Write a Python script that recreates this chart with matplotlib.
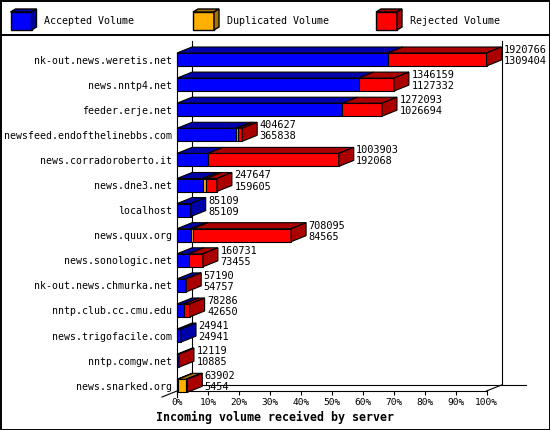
import numpy as np
import matplotlib.pyplot as plt
from matplotlib.patches import Polygon, Rectangle

plt.rcParams['font.family'] = ['DejaVu Sans Mono']

servers = ['nk-out.news.weretis.net', 'news.nntp4.net', 'feeder.erje.net',
           'newsfeed.endofthelinebbs.com', 'news.corradoroberto.it', 'news.dne3.net',
           'localhost', 'news.quux.org', 'news.sonologic.net', 'nk-out.news.chmurka.net',
           'nntp.club.cc.cmu.edu', 'news.trigofacile.com', 'nntp.comgw.net', 'news.snarked.org']
total = [1920766, 1346159, 1272093, 404627, 1003903, 247647, 85109,
         708095, 160731, 57190, 78286, 24941, 12119, 63902]
accepted = [1309404, 1127332, 1026694, 365838, 192068, 159605, 85109,
            84565, 73455, 54757, 42650, 24941, 10885, 5454]
# duplicated volume (orange slivers)
duplicated = [0, 0, 0, 11000, 0, 22000, 0, 14000, 0, 0, 0, 0, 0, 50000]
rejected = [t - a - d for t, a, d in zip(total, accepted, duplicated)]

ticks = list(range(0, 101, 10))
series = ['Accepted Volume', 'Duplicated Volume', 'Rejected Volume']
front_col = ['#0000ff', '#ffb000', '#ff0000']
dark_col = ['#0000aa', '#aa7400', '#aa0000']

W, H = 550, 430
fig = plt.figure(figsize=(W / 100, H / 100), dpi=100)
fig.patch.set_facecolor('white')

# background axes in pixel units for frame and legend
bg = fig.add_axes([0, 0, 1, 1])
bg.set_xlim(0, W)
bg.set_ylim(H, 0)
bg.axis('off')
bg.add_patch(Rectangle((0.5, 0.5), W - 1, H - 1, fill=False, ec='black', lw=1.4))
bg.plot([0, W], [35, 35], color='black', lw=1.4)

leg_x = [10.5, 193, 376]
for k in range(3):
    x0 = leg_x[k]
    fx = [x0, x0 + 21, x0 + 21, x0]
    fy = [12, 12, 30, 30]
    bg.add_patch(Polygon(list(zip(fx, fy)), fc=front_col[k], ec='black', lw=1.0))
    bg.add_patch(Polygon([(x0, 12), (x0 + 21, 12), (x0 + 26, 9), (x0 + 5, 9)],
                         fc=dark_col[k], ec='black', lw=1.0))
    bg.add_patch(Polygon([(x0 + 21, 12), (x0 + 21, 30), (x0 + 26, 27), (x0 + 26, 9)],
                         fc=dark_col[k], ec='black', lw=1.0))
    bg.text(x0 + 34, 21, series[k], fontsize=7.2, va='center', ha='left')

# main chart axes: x in percent of largest total, y = server index
PX = 3.095          # pixels per percent
Y0, SP = 59.5, 25.1  # first bar centre / spacing in pixels
y_top_px, y_bot_px = 41, 391
ax = fig.add_axes([177 / W, 1 - y_bot_px / H, 100 * PX / W, (y_bot_px - y_top_px) / H])
i_top = (y_top_px - Y0) / SP
i_bot = (y_bot_px - Y0) / SP
ax.set_xlim(0, 100)
ax.set_ylim(i_bot, i_top)
ax.patch.set_visible(False)

DX = 15 / PX
DY = 6 / SP
HH = 6.5 / SP
lw = 0.8

# back wall and floor outline
ax.plot([DX, DX], [i_top, i_bot - DY], color='black', lw=lw, clip_on=False, zorder=1)
ax.plot([100 + DX, 100 + DX], [i_top, i_bot - DY], color='black', lw=lw, clip_on=False, zorder=1)
ax.plot([DX, 100 + DX + 7.9], [i_bot - DY, i_bot - DY], color='black', lw=lw, clip_on=False, zorder=1)
ax.plot([100, 100 + DX], [i_bot, i_bot - DY], color='black', lw=lw, clip_on=False, zorder=1)
ax.plot([-DX, DX], [i_bot + DY, i_bot - DY], color='black', lw=lw, clip_on=False, zorder=1)
ax.plot([0, 0], [-HH, i_bot + DY], color='black', lw=lw, clip_on=False, zorder=2)

scale = 100.0 / max(total)
for i in range(len(servers)):
    vals = [accepted[i], duplicated[i], rejected[i]]
    x0 = 0.0
    segs = []
    for k, v in enumerate(vals):
        if v <= 0:
            continue
        x1 = x0 + v * scale
        segs.append((k, x0, x1))
        x0 = x1
    for k, a, b in segs:
        ax.add_patch(Polygon([(a, i - HH), (b, i - HH), (b, i + HH), (a, i + HH)],
                             fc=front_col[k], ec='black', lw=lw, clip_on=False, zorder=3))
        ax.add_patch(Polygon([(a, i - HH), (b, i - HH), (b + DX, i - HH - DY), (a + DX, i - HH - DY)],
                             fc=dark_col[k], ec='black', lw=lw, clip_on=False, zorder=3))
    k, a, b = segs[-1]
    ax.add_patch(Polygon([(b, i - HH), (b, i + HH), (b + DX, i + HH - DY), (b + DX, i - HH - DY)],
                         fc=dark_col[k], ec='black', lw=lw, clip_on=False, zorder=3))
    tx = b + DX + 2.5 / PX
    ax.text(tx, i - 9.5 / SP, str(total[i]), fontsize=7.4, va='center', ha='left', clip_on=False)
    ax.text(tx, i + 1.5 / SP, str(accepted[i]), fontsize=7.4, va='center', ha='left', clip_on=False)

for s in ['left', 'top', 'right']:
    ax.spines[s].set_visible(False)
ax.spines['bottom'].set_linewidth(lw)
ax.set_xticks(ticks)
ax.set_xticklabels([f'{t}%' for t in ticks], fontsize=6.8)
ax.tick_params(axis='x', length=3, width=lw, pad=2)
ax.set_yticks(range(len(servers)))
ax.set_yticklabels(servers, fontsize=7.1)
ax.tick_params(axis='y', length=0, pad=3.6)

fig.text(0.5, 1 - 417 / H, 'Incoming volume received by server', ha='center', va='center',
         fontsize=8.4, fontweight='bold')

fig.savefig('out.png', dpi=100)
